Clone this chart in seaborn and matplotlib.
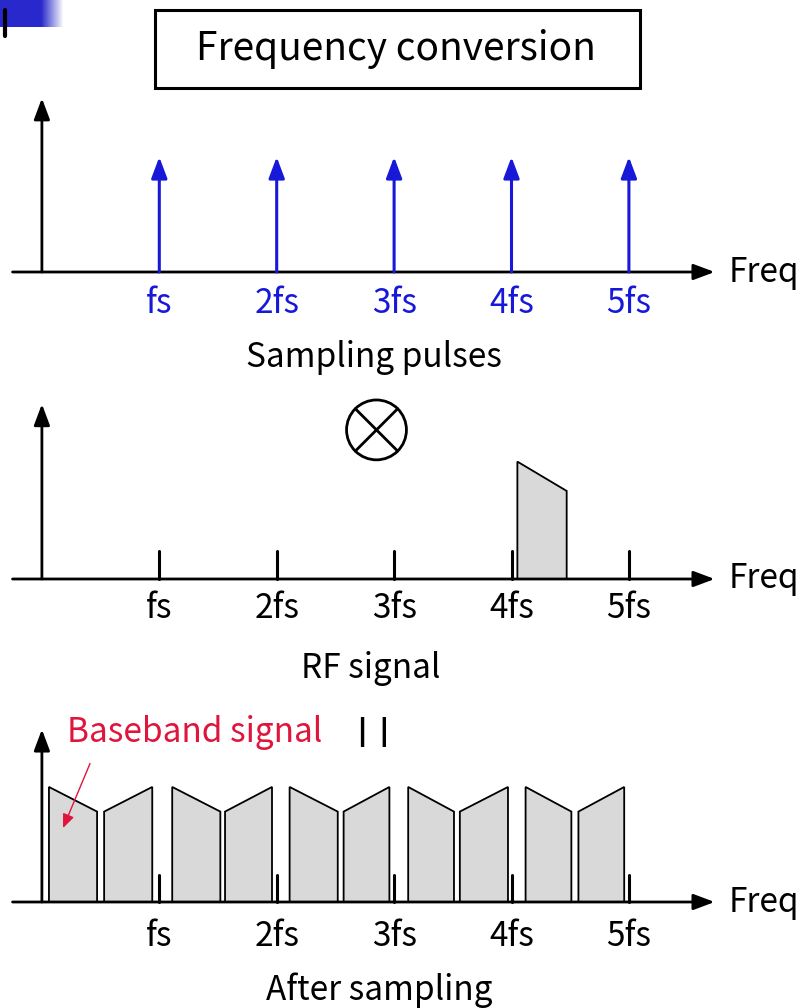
import numpy as np
import matplotlib
matplotlib.use("Agg")
import matplotlib.pyplot as plt
import seaborn as sns
from matplotlib.patches import Rectangle, Circle

sns.set_theme(style="white")
plt.rcParams['font.family'] = ['Noto Sans CJK JP', 'DejaVu Sans']
plt.rcParams['text.color'] = 'black'

# --- data (frequency in units of fs) ---
harmonics = [1, 2, 3, 4, 5]
harmonic_labels = ['fs', '2fs', '3fs', '4fs', '5fs']
pulse_height = 0.98
tick_height = 0.24

# RF signal band: [start, end] and amplitude at the two edges
rf_band = [4.05, 4.47]
rf_levels = [1.0, 0.75]

# after sampling: falling copies and mirrored (rising) copies
falling_left = [0.06, 1.11, 2.11, 3.12, 4.12]
falling_right = [0.47, 1.52, 2.52, 3.51, 4.51]
rising_left = [0.53, 1.56, 2.57, 3.56, 4.57]
rising_right = [0.94, 1.96, 2.96, 3.97, 4.96]
copy_levels = [0.98, 0.77]

BLUE = '#1818d8'
RED = '#e0153c'
GRAY = '#d9d9d9'

W, H = 805, 1008
S = 117.4          # pixels per fs
ORIGIN_PX = 41.9   # pixel column of f = 0

fig = plt.figure(figsize=(W / 100, H / 100), dpi=100)


def panel(top_px, bot_px, base_px):
    ax = fig.add_axes([0, 1 - bot_px / H, 1, (bot_px - top_px) / H])
    ax.set_xlim(-ORIGIN_PX / S, (W - ORIGIN_PX) / S)
    ax.set_ylim(-(bot_px - base_px) / S, (base_px - top_px) / S)
    ax.axis('off')
    return ax


def arrow(ax, x0, y0, x1, y1, color='black', lw=2.0):
    ax.annotate('', xy=(x1, y1), xytext=(x0, y0),
                arrowprops=dict(arrowstyle='-|>,head_length=0.8,head_width=0.3',
                                color=color, lw=lw, mutation_scale=16,
                                shrinkA=0, shrinkB=0))


def freq_axes(ax, y_top):
    arrow(ax, -0.25, 0, 5.73, 0)
    arrow(ax, 0, 0, 0, y_top)
    ax.text(5.85, 0, 'Freq', fontsize=24, ha='left', va='center')


def harmonic_text(ax, y, color='black'):
    for h, lab in zip(harmonics, harmonic_labels):
        ax.text(h, y, lab, fontsize=24, ha='center', va='center', color=color)


# --- top-left decoration ---
deco = fig.add_axes([0, 1 - 27 / H, 64 / W, 27 / H])
grad = np.ones((1, 64, 3))
t = np.clip((np.arange(64) - 40) / 22, 0, 1)
for c, v in enumerate([0.16, 0.16, 0.80]):
    grad[0, :, c] = v + (1 - v) * t
deco.imshow(grad, aspect='auto')
deco.axis('off')
fig.add_artist(plt.Line2D([5 / W, 5 / W], [1 - 36 / H, 1 - 10 / H],
                          transform=fig.transFigure, color='black', lw=3))

# --- title box ---
fig.add_artist(Rectangle((155 / W, 1 - 88 / H), 485 / W, 78 / H,
                         transform=fig.transFigure, fill=False,
                         edgecolor='black', lw=2.2))
fig.text(396 / W, 1 - 49 / H, 'Frequency conversion', fontsize=28,
         ha='center', va='center')

# --- panel 1: sampling pulses ---
ax1 = panel(90, 385, 272)
freq_axes(ax1, 1.48)
for h in harmonics:
    arrow(ax1, h, 0, h, pulse_height, color=BLUE, lw=2.2)
harmonic_text(ax1, -0.27, color=BLUE)
ax1.text(2.83, -0.73, 'Sampling pulses', fontsize=24, ha='center', va='center')

# --- panel 2: RF signal ---
ax2 = panel(385, 700, 579)
freq_axes(ax2, 1.49)
for h in harmonics:
    ax2.plot([h, h], [0, tick_height], color='black', lw=2.2)
ax2.fill([rf_band[0], rf_band[0], rf_band[1], rf_band[1]],
         [0, rf_levels[0], rf_levels[1], 0],
         facecolor=GRAY, edgecolor='black', lw=1.3)
harmonic_text(ax2, -0.25)
ax2.text(2.80, -0.76, 'RF signal', fontsize=24, ha='center', va='center')

# multiply sign (circle with a cross)
cx, cy, r = 2.85, 1.27, 0.255
ax2.add_patch(Circle((cx, cy), r, fill=False, edgecolor='black', lw=2.0))
d = r * np.sqrt(0.5)
ax2.plot([cx - d, cx + d], [cy - d, cy + d], color='black', lw=2.0)
ax2.plot([cx - d, cx + d], [cy + d, cy - d], color='black', lw=2.0)

# --- panel 3: after sampling ---
ax3 = panel(700, 1008, 902)
freq_axes(ax3, 1.47)
for a, b in zip(falling_left, falling_right):
    ax3.fill([a, a, b, b], [0, copy_levels[0], copy_levels[1], 0],
             facecolor=GRAY, edgecolor='black', lw=1.3)
for a, b in zip(rising_left, rising_right):
    ax3.fill([a, a, b, b], [0, copy_levels[1], copy_levels[0], 0],
             facecolor=GRAY, edgecolor='black', lw=1.3)
for h in harmonics:
    ax3.plot([h, h], [0, 0.23], color='black', lw=2.2)
harmonic_text(ax3, -0.29)
ax3.text(2.87, -0.75, 'After sampling', fontsize=24, ha='center', va='center')
ax3.text(1.30, 1.44, 'Baseband signal', fontsize=24, ha='center', va='center',
         color=RED)
ax3.text(2.82, 1.45, '| |', fontsize=22, fontweight='bold', ha='center',
         va='center', family='DejaVu Sans')
ax3.annotate('', xy=(0.18, 0.63), xytext=(0.41, 1.18),
             arrowprops=dict(arrowstyle='-|>,head_length=0.6,head_width=0.25',
                             color=RED, lw=1.0, mutation_scale=14,
                             shrinkA=0, shrinkB=0))

fig.savefig('out.png', dpi=100, facecolor='white')
